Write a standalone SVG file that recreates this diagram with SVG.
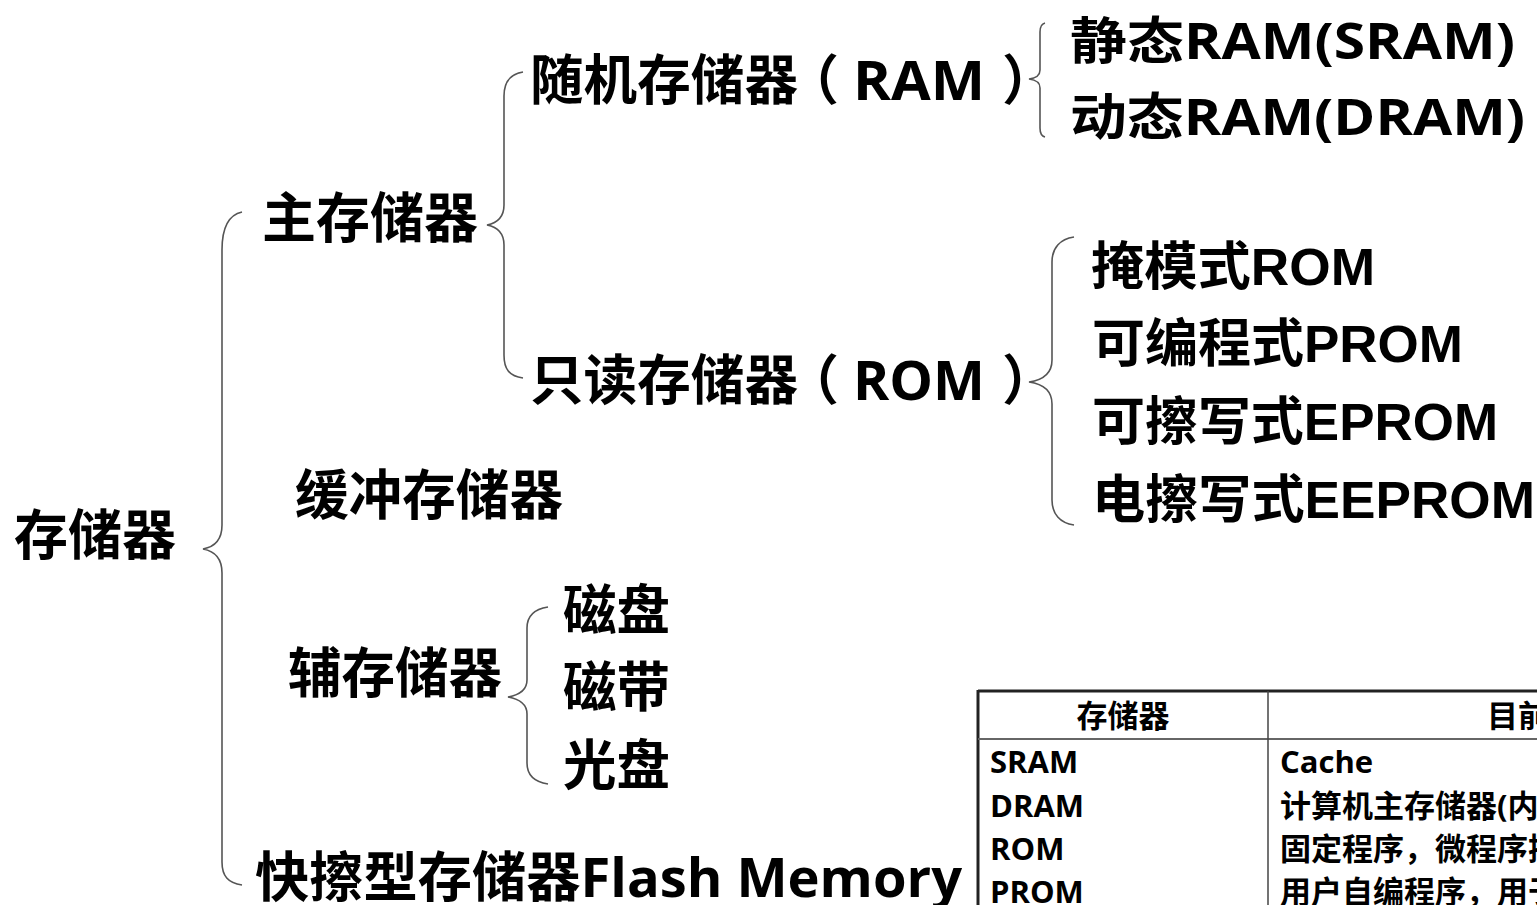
<svg xmlns="http://www.w3.org/2000/svg" width="1537" height="905" viewBox="0 0 1537 905">
<style>
.t{font-family:"Open Sans","Noto Sans CJK SC",sans-serif;font-weight:700;font-size:54px;fill:#000}
.s{font-family:"Open Sans","Noto Sans CJK SC",sans-serif;font-weight:700;font-size:50px;fill:#000}
.a{font-family:"Liberation Sans","Noto Sans CJK SC",sans-serif;font-weight:700;font-size:52px;fill:#000}
.tb{font-family:"Open Sans","Noto Sans CJK SC",sans-serif;font-weight:700;font-size:31px;fill:#000}
.br{fill:none;stroke:#555;stroke-width:1.6}
</style>
<rect width="1537" height="905" fill="#fff"/>
<g id="connectors">
<path class="br" d="M242,212 C228,215 222,228 222,250 L222,525 C222,540 214,547 203,549 C214,551 222,558 222,573 L222,862 C222,876 228,883 242,885"/>
<path class="br" d="M523,72 C510,74 504,82 504,96 L504,205 C504,217 497,223 487,225 C497,227 504,233 504,245 L504,355 C504,369 509,376 523,378"/>
<path class="br" d="M1045,23 C1041,24 1040,27 1040,32 L1040,70 C1040,76 1036,78 1029,79 C1036,80 1040,82 1040,88 L1040,128 C1040,133 1041,136 1045,137"/>
<path class="br" d="M1074,237 C1060,239 1052,248 1052,262 L1052,360 C1052,373 1043,380 1029,382 C1043,384 1052,391 1052,404 L1052,500 C1052,514 1060,523 1074,525"/>
<path class="br" d="M548,607 C535,609 527,616 527,628 L527,680 C527,690 519,695 508,697 C519,699 527,704 527,714 L527,763 C527,775 535,782 548,784"/>
</g>
<g id="n-root"><text class="t" x="14" y="555" textLength="162" lengthAdjust="spacingAndGlyphs">存储器</text></g>
<g id="n-main"><text class="t" x="262" y="238" textLength="216" lengthAdjust="spacingAndGlyphs">主存储器</text></g>
<g id="n-ram"><text class="t" y="100"><tspan x="530" textLength="268" lengthAdjust="spacingAndGlyphs">随机存储器</tspan><tspan x="785">（</tspan><tspan x="853" textLength="132" lengthAdjust="spacingAndGlyphs">RAM</tspan><tspan x="1002">）</tspan></text></g>
<g id="n-rom"><text class="t" y="400"><tspan x="530" textLength="268" lengthAdjust="spacingAndGlyphs">只读存储器</tspan><tspan x="785">（</tspan><tspan x="853" textLength="132" lengthAdjust="spacingAndGlyphs">ROM</tspan><tspan x="1002">）</tspan></text></g>
<g id="n-sram"><text class="s" x="1070" y="59" textLength="445" lengthAdjust="spacingAndGlyphs">静态RAM(SRAM)</text></g>
<g id="n-dram"><text class="s" x="1070" y="135" textLength="455" lengthAdjust="spacingAndGlyphs">动态RAM(DRAM)</text></g>
<g id="n-mrom"><text class="a" x="1091" y="285" textLength="284" lengthAdjust="spacingAndGlyphs">掩模式ROM</text></g>
<g id="n-prom"><text class="a" x="1092" y="362" textLength="371" lengthAdjust="spacingAndGlyphs">可编程式PROM</text></g>
<g id="n-eprom"><text class="a" x="1092" y="440" textLength="406" lengthAdjust="spacingAndGlyphs">可擦写式EPROM</text></g>
<g id="n-eeprom"><text class="a" x="1092" y="518" textLength="443" lengthAdjust="spacingAndGlyphs">电擦写式EEPROM</text></g>
<g id="n-cache"><text class="t" x="295" y="515" textLength="268" lengthAdjust="spacingAndGlyphs">缓冲存储器</text></g>
<g id="n-aux"><text class="t" x="288" y="693" textLength="214" lengthAdjust="spacingAndGlyphs">辅存储器</text></g>
<g id="n-disk"><text class="t" x="563" y="630" textLength="107" lengthAdjust="spacingAndGlyphs">磁盘</text></g>
<g id="n-tape"><text class="t" x="563" y="707" textLength="107" lengthAdjust="spacingAndGlyphs">磁带</text></g>
<g id="n-optical"><text class="t" x="563" y="785" textLength="107" lengthAdjust="spacingAndGlyphs">光盘</text></g>
<g id="n-flash"><text class="t" x="255" y="897" textLength="707" lengthAdjust="spacingAndGlyphs">快擦型存储器Flash Memory</text></g>
<g id="table">
<line x1="978" y1="691" x2="1537" y2="691" stroke="#222" stroke-width="3"/>
<line x1="978" y1="690" x2="978" y2="905" stroke="#222" stroke-width="3"/>
<line x1="978" y1="739" x2="1537" y2="739" stroke="#666" stroke-width="2"/>
<line x1="1268" y1="691" x2="1268" y2="905" stroke="#444" stroke-width="1.5"/>
<text class="tb" x="1123" y="727" text-anchor="middle">存储器</text>
<text class="tb" x="1487" y="727">目前</text>
<text class="tb" x="990" y="773">SRAM</text>
<text class="tb" x="990" y="817">DRAM</text>
<text class="tb" x="990" y="860">ROM</text>
<text class="tb" x="990" y="903">PROM</text>
<text class="tb" x="1280" y="773">Cache</text>
<text class="tb" x="1280" y="817">计算机主存储器(内存</text>
<text class="tb" x="1280" y="860">固定程序，微程序控</text>
<text class="tb" x="1280" y="903">用户自编程序，用于</text>
</g>
</svg>
